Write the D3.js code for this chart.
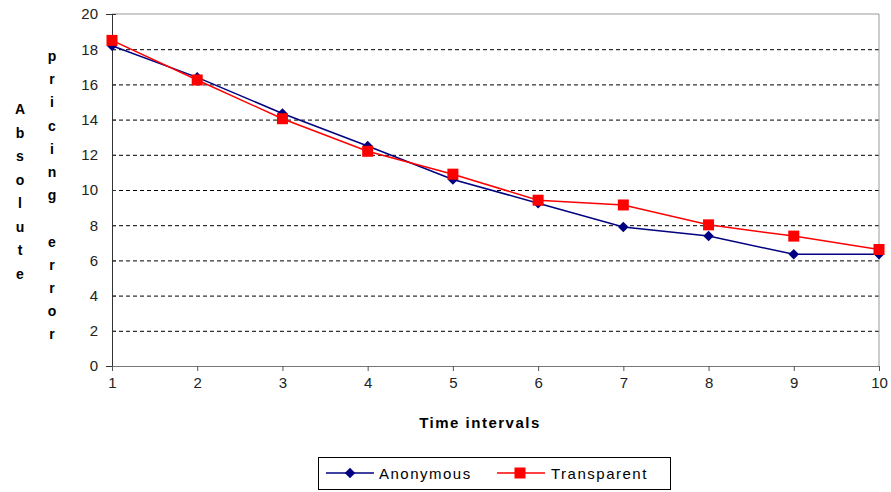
<!DOCTYPE html>
<html>
<head>
<meta charset="utf-8">
<script src="https://cdn.jsdelivr.net/npm/d3@7"></script>
<style>
  body { margin: 0; background: #fff; }
  svg text { font-family: "Liberation Sans", Arial, sans-serif; }
</style>
</head>
<body>
<svg id="chart" width="891" height="492"></svg>
<script>
// time intervals on the x axis
var intervals = [1, 2, 3, 4, 5, 6, 7, 8, 9, 10];
var anonymous = [18.2, 16.4, 14.35, 12.5, 10.6, 9.25, 7.9, 7.38, 6.35, 6.35];
var transparent = [18.5, 16.25, 14.05, 12.2, 10.9, 9.42, 9.15, 8.02, 7.38, 6.62];
var yTicks = [0, 2, 4, 6, 8, 10, 12, 14, 16, 18, 20];

var svg = d3.select("#chart");
// note: "top" clashes with window.top, so plotTop etc.
var plotLeft = 112, plotRight = 879, plotTop = 14, plotBottom = 366;

var x = d3.scaleLinear().domain([1, 10]).range([plotLeft, plotRight]);
var y = d3.scaleLinear().domain([0, 20]).range([plotBottom, plotTop]);

// dashed grid lines
svg.selectAll("line.grid")
   .data(yTicks.filter(d => d > 0 && d < 20))
   .enter()
   .append("line")
   .attr("class", "grid")
   .attr("x1", plotLeft).attr("x2", plotRight)
   .attr("y1", d => y(d) + 0.5).attr("y2", d => y(d) + 0.5)
   .attr("stroke", "#000")
   .attr("stroke-dasharray", "4,3");

// top and right frame
svg.append("line").attr("x1", plotLeft).attr("x2", plotRight).attr("y1", plotTop).attr("y2", plotTop).attr("stroke", "#999");
svg.append("line").attr("x1", plotRight).attr("x2", plotRight).attr("y1", plotTop).attr("y2", plotBottom).attr("stroke", "#999");

// y axis
var yAxis = svg.append("g")
   .attr("transform", "translate(" + plotLeft + ",0)")
   .call(d3.axisLeft(y).tickValues(yTicks).tickSize(6).tickPadding(8));
yAxis.select(".domain").attr("stroke", "#333");
yAxis.selectAll(".tick line").attr("x2", 4).attr("stroke", "#333");
yAxis.selectAll("text").attr("font-size", 15).attr("fill", "#222");

// x axis
var xAxis = svg.append("g")
   .attr("transform", "translate(0," + plotBottom + ")")
   .call(d3.axisBottom(x).tickValues(intervals).tickSize(5).tickPadding(6));
xAxis.select(".domain").attr("stroke", "#777");
xAxis.selectAll(".tick line").attr("stroke", "#555");
xAxis.selectAll("text").attr("font-size", 15).attr("fill", "#222");

// lines
var line = d3.line().x((d, i) => x(intervals[i])).y(d => y(d));
svg.append("path").datum(anonymous).attr("d", line)
   .attr("fill", "none").attr("stroke", "#000080").attr("stroke-width", 1.5);
svg.append("path").datum(transparent).attr("d", line)
   .attr("fill", "none").attr("stroke", "#ff0000").attr("stroke-width", 1.5);

// markers
var diamond = d3.symbol().type(d3.symbolDiamond2).size(70);
svg.selectAll("path.anon")
   .data(anonymous)
   .enter()
   .append("path")
   .attr("class", "anon")
   .attr("d", diamond)
   .attr("transform", (d, i) => "translate(" + x(intervals[i]) + "," + y(d) + ")")
   .attr("fill", "#000080");
svg.selectAll("rect.trans")
   .data(transparent)
   .enter()
   .append("rect")
   .attr("class", "trans")
   .attr("x", (d, i) => x(intervals[i]) - 5.5)
   .attr("y", d => y(d) - 5.5)
   .attr("width", 11).attr("height", 11)
   .attr("fill", "#ff0000");

// axis titles
svg.append("text")
   .attr("x", 480).attr("y", 428)
   .attr("text-anchor", "middle")
   .attr("font-size", 15).attr("font-weight", "bold")
   .attr("letter-spacing", 1.5)
   .text("Time intervals");

function stackedText(str, cx, y0, step) {
    svg.append("g").selectAll("text")
       .data(str.split(""))
       .enter()
       .append("text")
       .attr("x", cx)
       .attr("y", (d, i) => y0 + i * step)
       .attr("text-anchor", "middle")
       .attr("font-size", 14).attr("font-weight", "bold")
       .text(d => d);
}
stackedText("Absolute", 20, 114, 23.5);
stackedText("pricing error", 52, 61, 23.2);

// legend
var lg = svg.append("g");
lg.append("rect").attr("x", 318.5).attr("y", 457.5).attr("width", 352).attr("height", 32)
  .attr("fill", "#fff").attr("stroke", "#000");
lg.append("line").attr("x1", 326).attr("x2", 374).attr("y1", 473).attr("y2", 473).attr("stroke", "#000080").attr("stroke-width", 1.5);
lg.append("path").attr("d", diamond).attr("transform", "translate(350,473)").attr("fill", "#000080");
lg.append("text").attr("x", 379).attr("y", 479).attr("font-size", 15).attr("letter-spacing", 1.5).text("Anonymous");
lg.append("line").attr("x1", 497).attr("x2", 545).attr("y1", 473).attr("y2", 473).attr("stroke", "#ff0000").attr("stroke-width", 1.5);
lg.append("rect").attr("x", 514.5).attr("y", 467.5).attr("width", 11).attr("height", 11).attr("fill", "#ff0000");
lg.append("text").attr("x", 551).attr("y", 479).attr("font-size", 15).attr("letter-spacing", 1.5).text("Transparent");
</script>
</body>
</html>
